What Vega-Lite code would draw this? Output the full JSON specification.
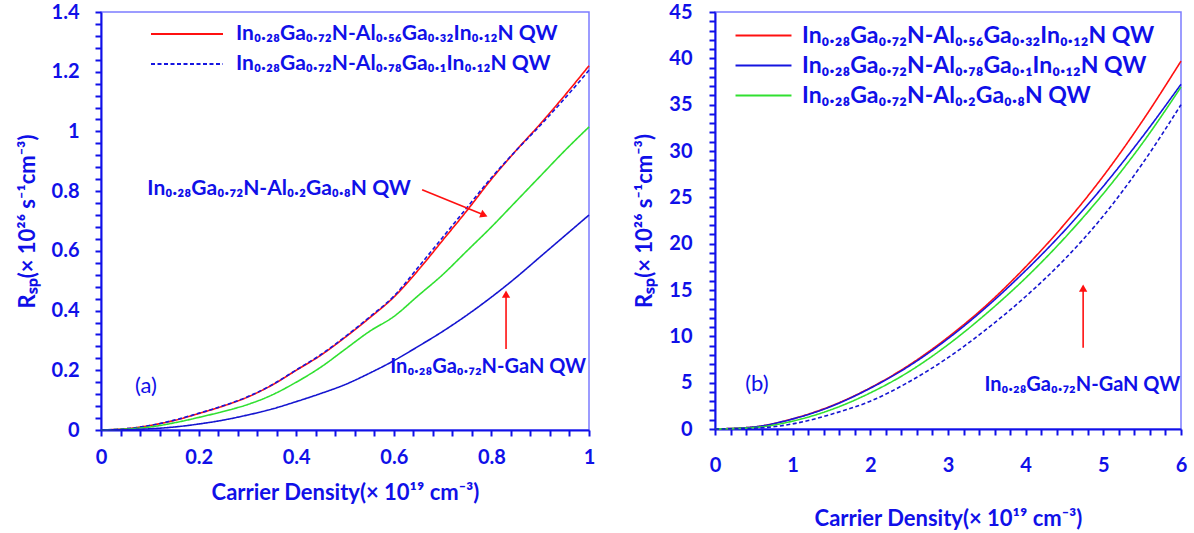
{
  "$schema": "https://vega.github.io/schema/vega-lite/v6.json",
  "padding": {"left": 15, "top": 1, "right": 5, "bottom": 5},
  "spacing": 37,
  "config": {
    "view": {"stroke": "#7c7cff", "strokeWidth": 1.5},
    "axis": {
      "domainColor": "#1010e8", "domainWidth": 2, "tickColor": "#1010e8", "tickWidth": 2,
      "labelColor": "#1010e8", "labelFont": "Lato", "labelFontWeight": "bold", "labelFontSize": 20,
      "titleColor": "#1010e8", "titleFont": "Lato", "titleFontWeight": "bold", "titleFontSize": 22,
      "grid": false, "labelFlush": false, "labelOverlap": false, "format": "~g"
    },
    "legend": {
      "orient": "none", "title": null, "symbolStrokeWidth": 2,
      "labelFont": "Lato", "labelFontWeight": "bold", "labelColor": "#1010e8",
      "labelLimit": 700
    }
  },
  "datasets": {
    "a": [
      {"x":0,"y":0,"s":"In₀.₂₈Ga₀.₇₂N-Al₀.₅₆Ga₀.₃₂In₀.₁₂N QW"},{"x":0.05,"y":0.004,"s":"In₀.₂₈Ga₀.₇₂N-Al₀.₅₆Ga₀.₃₂In₀.₁₂N QW"},{"x":0.1,"y":0.015,"s":"In₀.₂₈Ga₀.₇₂N-Al₀.₅₆Ga₀.₃₂In₀.₁₂N QW"},{"x":0.15,"y":0.032,"s":"In₀.₂₈Ga₀.₇₂N-Al₀.₅₆Ga₀.₃₂In₀.₁₂N QW"},{"x":0.2,"y":0.055,"s":"In₀.₂₈Ga₀.₇₂N-Al₀.₅₆Ga₀.₃₂In₀.₁₂N QW"},{"x":0.25,"y":0.08,"s":"In₀.₂₈Ga₀.₇₂N-Al₀.₅₆Ga₀.₃₂In₀.₁₂N QW"},{"x":0.3,"y":0.11,"s":"In₀.₂₈Ga₀.₇₂N-Al₀.₅₆Ga₀.₃₂In₀.₁₂N QW"},{"x":0.35,"y":0.15,"s":"In₀.₂₈Ga₀.₇₂N-Al₀.₅₆Ga₀.₃₂In₀.₁₂N QW"},{"x":0.4,"y":0.2,"s":"In₀.₂₈Ga₀.₇₂N-Al₀.₅₆Ga₀.₃₂In₀.₁₂N QW"},{"x":0.45,"y":0.25,"s":"In₀.₂₈Ga₀.₇₂N-Al₀.₅₆Ga₀.₃₂In₀.₁₂N QW"},{"x":0.5,"y":0.31,"s":"In₀.₂₈Ga₀.₇₂N-Al₀.₅₆Ga₀.₃₂In₀.₁₂N QW"},{"x":0.55,"y":0.375,"s":"In₀.₂₈Ga₀.₇₂N-Al₀.₅₆Ga₀.₃₂In₀.₁₂N QW"},{"x":0.6,"y":0.445,"s":"In₀.₂₈Ga₀.₇₂N-Al₀.₅₆Ga₀.₃₂In₀.₁₂N QW"},{"x":0.65,"y":0.535,"s":"In₀.₂₈Ga₀.₇₂N-Al₀.₅₆Ga₀.₃₂In₀.₁₂N QW"},{"x":0.7,"y":0.635,"s":"In₀.₂₈Ga₀.₇₂N-Al₀.₅₆Ga₀.₃₂In₀.₁₂N QW"},{"x":0.75,"y":0.735,"s":"In₀.₂₈Ga₀.₇₂N-Al₀.₅₆Ga₀.₃₂In₀.₁₂N QW"},{"x":0.8,"y":0.84,"s":"In₀.₂₈Ga₀.₇₂N-Al₀.₅₆Ga₀.₃₂In₀.₁₂N QW"},{"x":0.85,"y":0.935,"s":"In₀.₂₈Ga₀.₇₂N-Al₀.₅₆Ga₀.₃₂In₀.₁₂N QW"},{"x":0.9,"y":1.025,"s":"In₀.₂₈Ga₀.₇₂N-Al₀.₅₆Ga₀.₃₂In₀.₁₂N QW"},{"x":0.95,"y":1.12,"s":"In₀.₂₈Ga₀.₇₂N-Al₀.₅₆Ga₀.₃₂In₀.₁₂N QW"},{"x":1,"y":1.22,"s":"In₀.₂₈Ga₀.₇₂N-Al₀.₅₆Ga₀.₃₂In₀.₁₂N QW"},
      {"x":0,"y":0,"s":"In₀.₂₈Ga₀.₇₂N-Al₀.₇₈Ga₀.₁In₀.₁₂N QW"},{"x":0.05,"y":0.004,"s":"In₀.₂₈Ga₀.₇₂N-Al₀.₇₈Ga₀.₁In₀.₁₂N QW"},{"x":0.1,"y":0.015,"s":"In₀.₂₈Ga₀.₇₂N-Al₀.₇₈Ga₀.₁In₀.₁₂N QW"},{"x":0.15,"y":0.033,"s":"In₀.₂₈Ga₀.₇₂N-Al₀.₇₈Ga₀.₁In₀.₁₂N QW"},{"x":0.2,"y":0.056,"s":"In₀.₂₈Ga₀.₇₂N-Al₀.₇₈Ga₀.₁In₀.₁₂N QW"},{"x":0.25,"y":0.081,"s":"In₀.₂₈Ga₀.₇₂N-Al₀.₇₈Ga₀.₁In₀.₁₂N QW"},{"x":0.3,"y":0.111,"s":"In₀.₂₈Ga₀.₇₂N-Al₀.₇₈Ga₀.₁In₀.₁₂N QW"},{"x":0.35,"y":0.151,"s":"In₀.₂₈Ga₀.₇₂N-Al₀.₇₈Ga₀.₁In₀.₁₂N QW"},{"x":0.4,"y":0.201,"s":"In₀.₂₈Ga₀.₇₂N-Al₀.₇₈Ga₀.₁In₀.₁₂N QW"},{"x":0.45,"y":0.252,"s":"In₀.₂₈Ga₀.₇₂N-Al₀.₇₈Ga₀.₁In₀.₁₂N QW"},{"x":0.5,"y":0.312,"s":"In₀.₂₈Ga₀.₇₂N-Al₀.₇₈Ga₀.₁In₀.₁₂N QW"},{"x":0.55,"y":0.378,"s":"In₀.₂₈Ga₀.₇₂N-Al₀.₇₈Ga₀.₁In₀.₁₂N QW"},{"x":0.6,"y":0.448,"s":"In₀.₂₈Ga₀.₇₂N-Al₀.₇₈Ga₀.₁In₀.₁₂N QW"},{"x":0.65,"y":0.545,"s":"In₀.₂₈Ga₀.₇₂N-Al₀.₇₈Ga₀.₁In₀.₁₂N QW"},{"x":0.7,"y":0.645,"s":"In₀.₂₈Ga₀.₇₂N-Al₀.₇₈Ga₀.₁In₀.₁₂N QW"},{"x":0.75,"y":0.745,"s":"In₀.₂₈Ga₀.₇₂N-Al₀.₇₈Ga₀.₁In₀.₁₂N QW"},{"x":0.8,"y":0.845,"s":"In₀.₂₈Ga₀.₇₂N-Al₀.₇₈Ga₀.₁In₀.₁₂N QW"},{"x":0.85,"y":0.935,"s":"In₀.₂₈Ga₀.₇₂N-Al₀.₇₈Ga₀.₁In₀.₁₂N QW"},{"x":0.9,"y":1.02,"s":"In₀.₂₈Ga₀.₇₂N-Al₀.₇₈Ga₀.₁In₀.₁₂N QW"},{"x":0.95,"y":1.11,"s":"In₀.₂₈Ga₀.₇₂N-Al₀.₇₈Ga₀.₁In₀.₁₂N QW"},{"x":1,"y":1.205,"s":"In₀.₂₈Ga₀.₇₂N-Al₀.₇₈Ga₀.₁In₀.₁₂N QW"},
      {"x":0,"y":0,"s":"In₀.₂₈Ga₀.₇₂N-Al₀.₂Ga₀.₈N QW"},{"x":0.05,"y":0.003,"s":"In₀.₂₈Ga₀.₇₂N-Al₀.₂Ga₀.₈N QW"},{"x":0.1,"y":0.01,"s":"In₀.₂₈Ga₀.₇₂N-Al₀.₂Ga₀.₈N QW"},{"x":0.15,"y":0.024,"s":"In₀.₂₈Ga₀.₇₂N-Al₀.₂Ga₀.₈N QW"},{"x":0.2,"y":0.042,"s":"In₀.₂₈Ga₀.₇₂N-Al₀.₂Ga₀.₈N QW"},{"x":0.25,"y":0.062,"s":"In₀.₂₈Ga₀.₇₂N-Al₀.₂Ga₀.₈N QW"},{"x":0.3,"y":0.085,"s":"In₀.₂₈Ga₀.₇₂N-Al₀.₂Ga₀.₈N QW"},{"x":0.35,"y":0.117,"s":"In₀.₂₈Ga₀.₇₂N-Al₀.₂Ga₀.₈N QW"},{"x":0.4,"y":0.16,"s":"In₀.₂₈Ga₀.₇₂N-Al₀.₂Ga₀.₈N QW"},{"x":0.45,"y":0.21,"s":"In₀.₂₈Ga₀.₇₂N-Al₀.₂Ga₀.₈N QW"},{"x":0.5,"y":0.27,"s":"In₀.₂₈Ga₀.₇₂N-Al₀.₂Ga₀.₈N QW"},{"x":0.55,"y":0.33,"s":"In₀.₂₈Ga₀.₇₂N-Al₀.₂Ga₀.₈N QW"},{"x":0.6,"y":0.38,"s":"In₀.₂₈Ga₀.₇₂N-Al₀.₂Ga₀.₈N QW"},{"x":0.65,"y":0.45,"s":"In₀.₂₈Ga₀.₇₂N-Al₀.₂Ga₀.₈N QW"},{"x":0.7,"y":0.52,"s":"In₀.₂₈Ga₀.₇₂N-Al₀.₂Ga₀.₈N QW"},{"x":0.75,"y":0.6,"s":"In₀.₂₈Ga₀.₇₂N-Al₀.₂Ga₀.₈N QW"},{"x":0.8,"y":0.68,"s":"In₀.₂₈Ga₀.₇₂N-Al₀.₂Ga₀.₈N QW"},{"x":0.85,"y":0.765,"s":"In₀.₂₈Ga₀.₇₂N-Al₀.₂Ga₀.₈N QW"},{"x":0.9,"y":0.85,"s":"In₀.₂₈Ga₀.₇₂N-Al₀.₂Ga₀.₈N QW"},{"x":0.95,"y":0.935,"s":"In₀.₂₈Ga₀.₇₂N-Al₀.₂Ga₀.₈N QW"},{"x":1,"y":1.015,"s":"In₀.₂₈Ga₀.₇₂N-Al₀.₂Ga₀.₈N QW"},
      {"x":0,"y":0,"s":"In₀.₂₈Ga₀.₇₂N-GaN QW"},{"x":0.05,"y":0.001,"s":"In₀.₂₈Ga₀.₇₂N-GaN QW"},{"x":0.1,"y":0.004,"s":"In₀.₂₈Ga₀.₇₂N-GaN QW"},{"x":0.15,"y":0.01,"s":"In₀.₂₈Ga₀.₇₂N-GaN QW"},{"x":0.2,"y":0.02,"s":"In₀.₂₈Ga₀.₇₂N-GaN QW"},{"x":0.25,"y":0.033,"s":"In₀.₂₈Ga₀.₇₂N-GaN QW"},{"x":0.3,"y":0.05,"s":"In₀.₂₈Ga₀.₇₂N-GaN QW"},{"x":0.35,"y":0.07,"s":"In₀.₂₈Ga₀.₇₂N-GaN QW"},{"x":0.4,"y":0.095,"s":"In₀.₂₈Ga₀.₇₂N-GaN QW"},{"x":0.45,"y":0.122,"s":"In₀.₂₈Ga₀.₇₂N-GaN QW"},{"x":0.5,"y":0.152,"s":"In₀.₂₈Ga₀.₇₂N-GaN QW"},{"x":0.55,"y":0.19,"s":"In₀.₂₈Ga₀.₇₂N-GaN QW"},{"x":0.6,"y":0.232,"s":"In₀.₂₈Ga₀.₇₂N-GaN QW"},{"x":0.65,"y":0.28,"s":"In₀.₂₈Ga₀.₇₂N-GaN QW"},{"x":0.7,"y":0.33,"s":"In₀.₂₈Ga₀.₇₂N-GaN QW"},{"x":0.75,"y":0.385,"s":"In₀.₂₈Ga₀.₇₂N-GaN QW"},{"x":0.8,"y":0.445,"s":"In₀.₂₈Ga₀.₇₂N-GaN QW"},{"x":0.85,"y":0.51,"s":"In₀.₂₈Ga₀.₇₂N-GaN QW"},{"x":0.9,"y":0.58,"s":"In₀.₂₈Ga₀.₇₂N-GaN QW"},{"x":0.95,"y":0.65,"s":"In₀.₂₈Ga₀.₇₂N-GaN QW"},{"x":1,"y":0.72,"s":"In₀.₂₈Ga₀.₇₂N-GaN QW"}
    ],
    "b": [
      {"x":0,"y":0,"s":"In₀.₂₈Ga₀.₇₂N-Al₀.₅₆Ga₀.₃₂In₀.₁₂N QW"},{"x":0.5,"y":0.22,"s":"In₀.₂₈Ga₀.₇₂N-Al₀.₅₆Ga₀.₃₂In₀.₁₂N QW"},{"x":1,"y":1.1,"s":"In₀.₂₈Ga₀.₇₂N-Al₀.₅₆Ga₀.₃₂In₀.₁₂N QW"},{"x":1.5,"y":2.5,"s":"In₀.₂₈Ga₀.₇₂N-Al₀.₅₆Ga₀.₃₂In₀.₁₂N QW"},{"x":2,"y":4.45,"s":"In₀.₂₈Ga₀.₇₂N-Al₀.₅₆Ga₀.₃₂In₀.₁₂N QW"},{"x":2.5,"y":6.9,"s":"In₀.₂₈Ga₀.₇₂N-Al₀.₅₆Ga₀.₃₂In₀.₁₂N QW"},{"x":3,"y":9.9,"s":"In₀.₂₈Ga₀.₇₂N-Al₀.₅₆Ga₀.₃₂In₀.₁₂N QW"},{"x":3.5,"y":13.4,"s":"In₀.₂₈Ga₀.₇₂N-Al₀.₅₆Ga₀.₃₂In₀.₁₂N QW"},{"x":4,"y":17.5,"s":"In₀.₂₈Ga₀.₇₂N-Al₀.₅₆Ga₀.₃₂In₀.₁₂N QW"},{"x":4.5,"y":22.1,"s":"In₀.₂₈Ga₀.₇₂N-Al₀.₅₆Ga₀.₃₂In₀.₁₂N QW"},{"x":5,"y":27.3,"s":"In₀.₂₈Ga₀.₇₂N-Al₀.₅₆Ga₀.₃₂In₀.₁₂N QW"},{"x":5.5,"y":33.2,"s":"In₀.₂₈Ga₀.₇₂N-Al₀.₅₆Ga₀.₃₂In₀.₁₂N QW"},{"x":6,"y":39.7,"s":"In₀.₂₈Ga₀.₇₂N-Al₀.₅₆Ga₀.₃₂In₀.₁₂N QW"},
      {"x":0,"y":0,"s":"In₀.₂₈Ga₀.₇₂N-Al₀.₇₈Ga₀.₁In₀.₁₂N QW"},{"x":0.5,"y":0.22,"s":"In₀.₂₈Ga₀.₇₂N-Al₀.₇₈Ga₀.₁In₀.₁₂N QW"},{"x":1,"y":1.08,"s":"In₀.₂₈Ga₀.₇₂N-Al₀.₇₈Ga₀.₁In₀.₁₂N QW"},{"x":1.5,"y":2.45,"s":"In₀.₂₈Ga₀.₇₂N-Al₀.₇₈Ga₀.₁In₀.₁₂N QW"},{"x":2,"y":4.4,"s":"In₀.₂₈Ga₀.₇₂N-Al₀.₇₈Ga₀.₁In₀.₁₂N QW"},{"x":2.5,"y":6.8,"s":"In₀.₂₈Ga₀.₇₂N-Al₀.₇₈Ga₀.₁In₀.₁₂N QW"},{"x":3,"y":9.75,"s":"In₀.₂₈Ga₀.₇₂N-Al₀.₇₈Ga₀.₁In₀.₁₂N QW"},{"x":3.5,"y":13.2,"s":"In₀.₂₈Ga₀.₇₂N-Al₀.₇₈Ga₀.₁In₀.₁₂N QW"},{"x":4,"y":17.1,"s":"In₀.₂₈Ga₀.₇₂N-Al₀.₇₈Ga₀.₁In₀.₁₂N QW"},{"x":4.5,"y":21.4,"s":"In₀.₂₈Ga₀.₇₂N-Al₀.₇₈Ga₀.₁In₀.₁₂N QW"},{"x":5,"y":26.2,"s":"In₀.₂₈Ga₀.₇₂N-Al₀.₇₈Ga₀.₁In₀.₁₂N QW"},{"x":5.5,"y":31.5,"s":"In₀.₂₈Ga₀.₇₂N-Al₀.₇₈Ga₀.₁In₀.₁₂N QW"},{"x":6,"y":37.2,"s":"In₀.₂₈Ga₀.₇₂N-Al₀.₇₈Ga₀.₁In₀.₁₂N QW"},
      {"x":0,"y":0,"s":"In₀.₂₈Ga₀.₇₂N-Al₀.₂Ga₀.₈N QW"},{"x":0.5,"y":0.15,"s":"In₀.₂₈Ga₀.₇₂N-Al₀.₂Ga₀.₈N QW"},{"x":1,"y":0.85,"s":"In₀.₂₈Ga₀.₇₂N-Al₀.₂Ga₀.₈N QW"},{"x":1.5,"y":2.1,"s":"In₀.₂₈Ga₀.₇₂N-Al₀.₂Ga₀.₈N QW"},{"x":2,"y":3.9,"s":"In₀.₂₈Ga₀.₇₂N-Al₀.₂Ga₀.₈N QW"},{"x":2.5,"y":6.2,"s":"In₀.₂₈Ga₀.₇₂N-Al₀.₂Ga₀.₈N QW"},{"x":3,"y":9.1,"s":"In₀.₂₈Ga₀.₇₂N-Al₀.₂Ga₀.₈N QW"},{"x":3.5,"y":12.5,"s":"In₀.₂₈Ga₀.₇₂N-Al₀.₂Ga₀.₈N QW"},{"x":4,"y":16.3,"s":"In₀.₂₈Ga₀.₇₂N-Al₀.₂Ga₀.₈N QW"},{"x":4.5,"y":20.6,"s":"In₀.₂₈Ga₀.₇₂N-Al₀.₂Ga₀.₈N QW"},{"x":5,"y":25.4,"s":"In₀.₂₈Ga₀.₇₂N-Al₀.₂Ga₀.₈N QW"},{"x":5.5,"y":30.8,"s":"In₀.₂₈Ga₀.₇₂N-Al₀.₂Ga₀.₈N QW"},{"x":6,"y":36.9,"s":"In₀.₂₈Ga₀.₇₂N-Al₀.₂Ga₀.₈N QW"},
      {"x":0,"y":0,"s":"In₀.₂₈Ga₀.₇₂N-GaN QW"},{"x":0.5,"y":0.08,"s":"In₀.₂₈Ga₀.₇₂N-GaN QW"},{"x":1,"y":0.55,"s":"In₀.₂₈Ga₀.₇₂N-GaN QW"},{"x":1.5,"y":1.6,"s":"In₀.₂₈Ga₀.₇₂N-GaN QW"},{"x":2,"y":3.0,"s":"In₀.₂₈Ga₀.₇₂N-GaN QW"},{"x":2.5,"y":5.1,"s":"In₀.₂₈Ga₀.₇₂N-GaN QW"},{"x":3,"y":7.7,"s":"In₀.₂₈Ga₀.₇₂N-GaN QW"},{"x":3.5,"y":10.8,"s":"In₀.₂₈Ga₀.₇₂N-GaN QW"},{"x":4,"y":14.3,"s":"In₀.₂₈Ga₀.₇₂N-GaN QW"},{"x":4.5,"y":18.3,"s":"In₀.₂₈Ga₀.₇₂N-GaN QW"},{"x":5,"y":23.0,"s":"In₀.₂₈Ga₀.₇₂N-GaN QW"},{"x":5.5,"y":28.6,"s":"In₀.₂₈Ga₀.₇₂N-GaN QW"},{"x":6,"y":35.0,"s":"In₀.₂₈Ga₀.₇₂N-GaN QW"}
    ],
    "aText": [{"x":0.635,"y":0.807,"t":"In₀.₂₈Ga₀.₇₂N-Al₀.₂Ga₀.₈N QW"}],
    "aGaN": [{"x":0.994,"y":0.211,"t":"In₀.₂₈Ga₀.₇₂N-GaN  QW"}],
    "aLabel": [{"x":0.092,"y":0.148,"t":"(a)"}],
    "aArrow": [
      {"x":0.658,"y":0.805,"x2":0.785,"y2":0.72},
      {"x":0.83,"y":0.271,"x2":0.83,"y2":0.45}
    ],
    "aHeadDiag": [{"x":0.785,"y":0.72}],
    "aHeadUp": [{"x":0.83,"y":0.455}],
    "bText": [{"x":5.99,"y":4.71,"t":"In₀.₂₈Ga₀.₇₂N-GaN  QW"}],
    "bLabel": [{"x":0.54,"y":4.89,"t":"(b)"}],
    "bArrow": [{"x":4.74,"y":8.77,"x2":4.74,"y2":15.0}],
    "bHeadUp": [{"x":4.74,"y":15.2}]
  },
  "hconcat": [
    {
      "width": 488, "height": 418,
      "layer": [
        {
          "data": {"name": "a"},
          "mark": {"type": "line", "strokeWidth": 1.6, "interpolate": "monotone"},
          "encoding": {
            "x": {"field": "x", "type": "quantitative", "scale": {"domain": [0, 1], "nice": false},
                  "axis": {"values": [0,0.04,0.08,0.12,0.16,0.2,0.24,0.28,0.32,0.36,0.4,0.44,0.48,0.52,0.56,0.6,0.64,0.68,0.72,0.76,0.8,0.84,0.88,0.92,0.96,1],
                           "tickCount": 100,
                           "labelExpr": "abs(round(datum.value*5) - datum.value*5) < 0.000001 ? datum.label : ''",
                           "ticks": true, "tickColor": "#1010e8", "tickSize": 6, "labelPadding": 11,
                           "title": "Carrier Density(× 10¹⁹ cm⁻³)", "titlePadding": 15}},
            "y": {"field": "y", "type": "quantitative", "scale": {"domain": [0, 1.4], "nice": false},
                  "axis": {"values": [0,0.04,0.08,0.12,0.16,0.2,0.24,0.28,0.32,0.36,0.4,0.44,0.48,0.52,0.56,0.6,0.64,0.68,0.72,0.76,0.8,0.84,0.88,0.92,0.96,1,1.04,1.08,1.12,1.16,1.2,1.24,1.28,1.32,1.36,1.4],
                           "tickCount": 100,
                           "labelExpr": "abs(round(datum.value*5) - datum.value*5) < 0.000001 ? datum.label : ''",
                           "ticks": true, "tickColor": "#1010e8", "tickSize": 6, "labelPadding": 16,
                           "title": "Rₛₚ(× 10²⁶ s⁻¹cm⁻³)", "titlePadding": 12}},
            "color": {"field": "s", "type": "nominal",
                      "scale": {"domain": ["In₀.₂₈Ga₀.₇₂N-Al₀.₅₆Ga₀.₃₂In₀.₁₂N QW", "In₀.₂₈Ga₀.₇₂N-Al₀.₇₈Ga₀.₁In₀.₁₂N QW", "In₀.₂₈Ga₀.₇₂N-Al₀.₂Ga₀.₈N QW", "In₀.₂₈Ga₀.₇₂N-GaN QW"],
                                "range": ["#ff1010", "#1515e0", "#30e030", "#1515d0"]},
                      "legend": {"values": ["In₀.₂₈Ga₀.₇₂N-Al₀.₅₆Ga₀.₃₂In₀.₁₂N QW", "In₀.₂₈Ga₀.₇₂N-Al₀.₇₈Ga₀.₁In₀.₁₂N QW"],
                                 "symbolType": "M-3,0H3", "symbolSize": 576,
                                 "legendX": 73, "legendY": 9, "labelOffset": 36, "rowPadding": 7, "labelFontSize": 21}},
            "strokeDash": {"field": "s", "type": "nominal",
                      "scale": {"domain": ["In₀.₂₈Ga₀.₇₂N-Al₀.₅₆Ga₀.₃₂In₀.₁₂N QW", "In₀.₂₈Ga₀.₇₂N-Al₀.₇₈Ga₀.₁In₀.₁₂N QW", "In₀.₂₈Ga₀.₇₂N-Al₀.₂Ga₀.₈N QW", "In₀.₂₈Ga₀.₇₂N-GaN QW"],
                                "range": [[1, 0], [4, 2.5], [1, 0], [1, 0]]},
                      "legend": {"values": ["In₀.₂₈Ga₀.₇₂N-Al₀.₅₆Ga₀.₃₂In₀.₁₂N QW", "In₀.₂₈Ga₀.₇₂N-Al₀.₇₈Ga₀.₁In₀.₁₂N QW"],
                                 "symbolType": "M-3,0H3", "symbolSize": 576,
                                 "legendX": 73, "legendY": 9, "labelOffset": 36, "rowPadding": 7, "labelFontSize": 21}}
          }
        },
        {
          "data": {"name": "aText"},
          "mark": {"type": "text", "align": "right", "baseline": "middle", "font": "Lato", "fontWeight": "bold", "fontSize": 21, "color": "#1010e8"},
          "encoding": {
            "x": {"field": "x", "type": "quantitative"},
            "y": {"field": "y", "type": "quantitative"},
            "text": {"field": "t"}
          }
        },
        {
          "data": {"name": "aGaN"},
          "mark": {"type": "text", "align": "right", "baseline": "middle", "font": "Lato", "fontWeight": "bold", "fontSize": 20, "color": "#1010e8"},
          "encoding": {
            "x": {"field": "x", "type": "quantitative"},
            "y": {"field": "y", "type": "quantitative"},
            "text": {"field": "t"}
          }
        },
        {
          "data": {"name": "aLabel"},
          "mark": {"type": "text", "align": "center", "baseline": "middle", "font": "Lato", "fontSize": 22, "color": "#1010e8"},
          "encoding": {
            "x": {"field": "x", "type": "quantitative"},
            "y": {"field": "y", "type": "quantitative"},
            "text": {"field": "t"}
          }
        },
        {
          "data": {"name": "aArrow"},
          "mark": {"type": "rule", "color": "#ff1010", "strokeWidth": 1.6},
          "encoding": {
            "x": {"field": "x", "type": "quantitative"},
            "y": {"field": "y", "type": "quantitative"},
            "x2": {"field": "x2"},
            "y2": {"field": "y2"}
          }
        },
        {
          "data": {"name": "aHeadDiag"},
          "mark": {"type": "point", "shape": "triangle-right", "angle": 22, "filled": true, "color": "#ff1010", "opacity": 1, "size": 70},
          "encoding": {
            "x": {"field": "x", "type": "quantitative"},
            "y": {"field": "y", "type": "quantitative"}
          }
        },
        {
          "data": {"name": "aHeadUp"},
          "mark": {"type": "point", "shape": "triangle-up", "filled": true, "color": "#ff1010", "opacity": 1, "size": 70},
          "encoding": {
            "x": {"field": "x", "type": "quantitative"},
            "y": {"field": "y", "type": "quantitative"}
          }
        }
      ]
    },
    {
      "width": 466, "height": 417,
      "layer": [
        {
          "data": {"name": "b"},
          "mark": {"type": "line", "strokeWidth": 1.6, "interpolate": "monotone"},
          "encoding": {
            "x": {"field": "x", "type": "quantitative", "scale": {"domain": [0, 6], "nice": false},
                  "axis": {"values": [0,0.2,0.4,0.6,0.8,1,1.2,1.4,1.6,1.8,2,2.2,2.4,2.6,2.8,3,3.2,3.4,3.6,3.8,4,4.2,4.4,4.6,4.8,5,5.2,5.4,5.6,5.8,6],
                           "tickCount": 100,
                           "labelExpr": "abs(round(datum.value) - datum.value) < 0.000001 ? datum.label : ''",
                           "ticks": true, "tickColor": "#1010e8", "tickSize": 6, "labelPadding": 20,
                           "title": "Carrier Density(× 10¹⁹ cm⁻³)", "titlePadding": 33}},
            "y": {"field": "y", "type": "quantitative", "scale": {"domain": [0, 45], "nice": false},
                  "axis": {"values": [0,1,2,3,4,5,6,7,8,9,10,11,12,13,14,15,16,17,18,19,20,21,22,23,24,25,26,27,28,29,30,31,32,33,34,35,36,37,38,39,40,41,42,43,44,45],
                           "tickCount": 100,
                           "labelExpr": "datum.value % 5 === 0 ? datum.label : ''",
                           "ticks": true, "tickColor": "#1010e8", "tickSize": 6, "labelPadding": 17,
                           "title": "Rₛₚ(× 10²⁶ s⁻¹cm⁻³)", "titlePadding": 12}},
            "color": {"field": "s", "type": "nominal",
                      "scale": {"domain": ["In₀.₂₈Ga₀.₇₂N-Al₀.₅₆Ga₀.₃₂In₀.₁₂N QW", "In₀.₂₈Ga₀.₇₂N-Al₀.₇₈Ga₀.₁In₀.₁₂N QW", "In₀.₂₈Ga₀.₇₂N-Al₀.₂Ga₀.₈N QW", "In₀.₂₈Ga₀.₇₂N-GaN QW"],
                                "range": ["#ff1010", "#1515e0", "#30e030", "#1515d0"]},
                      "legend": {"values": ["In₀.₂₈Ga₀.₇₂N-Al₀.₅₆Ga₀.₃₂In₀.₁₂N QW", "In₀.₂₈Ga₀.₇₂N-Al₀.₇₈Ga₀.₁In₀.₁₂N QW", "In₀.₂₈Ga₀.₇₂N-Al₀.₂Ga₀.₈N QW"],
                                 "symbolType": "M-3,0H3", "symbolSize": 348,
                                 "legendX": 37, "legendY": 12, "labelOffset": 27, "rowPadding": 6, "labelFontSize": 23}},
            "strokeDash": {"field": "s", "type": "nominal",
                      "scale": {"domain": ["In₀.₂₈Ga₀.₇₂N-Al₀.₅₆Ga₀.₃₂In₀.₁₂N QW", "In₀.₂₈Ga₀.₇₂N-Al₀.₇₈Ga₀.₁In₀.₁₂N QW", "In₀.₂₈Ga₀.₇₂N-Al₀.₂Ga₀.₈N QW", "In₀.₂₈Ga₀.₇₂N-GaN QW"],
                                "range": [[1, 0], [1, 0], [1, 0], [4, 2.5]]},
                      "legend": {"values": ["In₀.₂₈Ga₀.₇₂N-Al₀.₅₆Ga₀.₃₂In₀.₁₂N QW", "In₀.₂₈Ga₀.₇₂N-Al₀.₇₈Ga₀.₁In₀.₁₂N QW", "In₀.₂₈Ga₀.₇₂N-Al₀.₂Ga₀.₈N QW"],
                                 "symbolType": "M-3,0H3", "symbolSize": 348,
                                 "legendX": 37, "legendY": 12, "labelOffset": 27, "rowPadding": 6, "labelFontSize": 23}}
          }
        },
        {
          "data": {"name": "bText"},
          "mark": {"type": "text", "align": "right", "baseline": "middle", "font": "Lato", "fontWeight": "bold", "fontSize": 20, "color": "#1010e8"},
          "encoding": {
            "x": {"field": "x", "type": "quantitative"},
            "y": {"field": "y", "type": "quantitative"},
            "text": {"field": "t"}
          }
        },
        {
          "data": {"name": "bLabel"},
          "mark": {"type": "text", "align": "center", "baseline": "middle", "font": "Lato", "fontSize": 22, "color": "#1010e8"},
          "encoding": {
            "x": {"field": "x", "type": "quantitative"},
            "y": {"field": "y", "type": "quantitative"},
            "text": {"field": "t"}
          }
        },
        {
          "data": {"name": "bArrow"},
          "mark": {"type": "rule", "color": "#ff1010", "strokeWidth": 1.6},
          "encoding": {
            "x": {"field": "x", "type": "quantitative"},
            "y": {"field": "y", "type": "quantitative"},
            "x2": {"field": "x2"},
            "y2": {"field": "y2"}
          }
        },
        {
          "data": {"name": "bHeadUp"},
          "mark": {"type": "point", "shape": "triangle-up", "filled": true, "color": "#ff1010", "opacity": 1, "size": 70},
          "encoding": {
            "x": {"field": "x", "type": "quantitative"},
            "y": {"field": "y", "type": "quantitative"}
          }
        }
      ]
    }
  ],
  "resolve": {"scale": {"color": "independent", "strokeDash": "independent"}}
}
